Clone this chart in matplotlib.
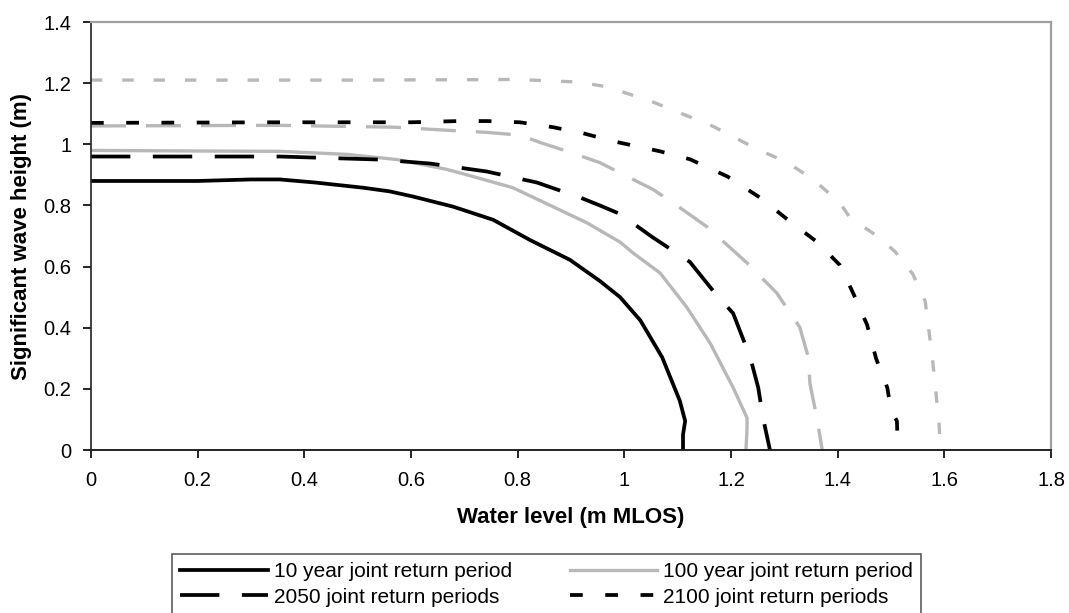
import matplotlib
matplotlib.use('Agg')
import matplotlib.pyplot as plt
from matplotlib.ticker import FuncFormatter
from matplotlib.lines import Line2D

plt.rcParams['font.family'] = ['Liberation Sans', 'DejaVu Sans']

# 10 year joint return period (present)
x_10 = [0, 0.2, 0.3, 0.354, 0.42, 0.51, 0.56, 0.604, 0.679, 0.754, 0.823, 0.898,
        0.954, 0.992, 1.03, 1.071, 1.104, 1.114, 1.11, 1.11]
y_10 = [0.88, 0.88, 0.885, 0.885, 0.875, 0.858, 0.846, 0.829, 0.796, 0.753, 0.687, 0.622,
        0.553, 0.50, 0.424, 0.303, 0.161, 0.095, 0.05, 0]

# 100 year joint return period (present)
x_100 = [0, 0.2, 0.354, 0.48, 0.574, 0.667, 0.705, 0.791, 0.866, 0.93, 0.992, 1.016,
         1.067, 1.117, 1.161, 1.204, 1.23, 1.23, 1.228]
y_100 = [0.98, 0.978, 0.977, 0.967, 0.95, 0.918, 0.90, 0.858, 0.796, 0.743, 0.68, 0.645,
         0.579, 0.467, 0.349, 0.204, 0.105, 0.07, 0]

# 2050, 10 year
x_2050_10 = [0, 0.354, 0.542, 0.636, 0.742, 0.836, 0.917, 0.954, 0.992, 1.052, 1.123,
             1.17, 1.204, 1.236, 1.251, 1.26, 1.273]
y_2050_10 = [0.96, 0.96, 0.95, 0.937, 0.911, 0.875, 0.826, 0.8, 0.772, 0.697, 0.615,
             0.513, 0.447, 0.303, 0.204, 0.105, 0]

# 2050, 100 year
x_2050_100 = [0, 0.354, 0.567, 0.667, 0.742, 0.804, 0.842, 0.898, 0.954, 1.054, 1.091,
              1.155, 1.23, 1.286, 1.329, 1.345, 1.348, 1.361, 1.371]
y_2050_100 = [1.06, 1.062, 1.056, 1.046, 1.039, 1.03, 1.006, 0.974, 0.94, 0.852, 0.809,
              0.73, 0.612, 0.513, 0.401, 0.303, 0.217, 0.105, 0]

# 2100, 10 year
x_2100_10 = [0, 0.354, 0.6, 0.69, 0.742, 0.804, 0.866, 0.923, 0.979, 1.067, 1.123, 1.193,
             1.254, 1.311, 1.361, 1.404, 1.429, 1.455, 1.472, 1.493, 1.5, 1.511, 1.513]
y_2100_10 = [1.07, 1.072, 1.072, 1.076, 1.076, 1.072, 1.056, 1.036, 1.01, 0.977, 0.951, 0.895,
             0.826, 0.747, 0.681, 0.605, 0.513, 0.41, 0.299, 0.204, 0.13, 0.095, 0]

# 2100, 100 year
x_2100_100 = [0, 0.5, 0.799, 0.866, 0.911, 0.968, 1.054, 1.166, 1.249, 1.305, 1.354, 1.404,
              1.423, 1.479, 1.508, 1.541, 1.564, 1.571, 1.578, 1.584, 1.59, 1.593]
y_2100_100 = [1.21, 1.21, 1.212, 1.207, 1.204, 1.188, 1.138, 1.059, 0.984, 0.941, 0.885, 0.809,
              0.76, 0.694, 0.648, 0.575, 0.487, 0.391, 0.293, 0.19, 0.086, 0]

legend_labels = ['10 year joint return period', '100 year joint return period',
                 '2050 joint return periods', '2100 joint return periods']

GREY = '#b8b8b8'
LW_K = 2.7
LW_G = 2.4
dash_long = (10.5, 6)
dash_dot = (3.4, 6)

fig = plt.figure(figsize=(10.69, 6.13), dpi=100)
ax = fig.add_axes([0.0851, 0.2659, 0.8981, 0.6982])

ax.plot(x_10, y_10, color='black', lw=LW_K)
ax.plot(x_100, y_100, color=GREY, lw=LW_G)
ax.plot(x_2050_10, y_2050_10, color='black', lw=LW_K, linestyle=(0, dash_long))
ax.plot(x_2050_100, y_2050_100, color=GREY, lw=LW_G, linestyle=(0, dash_long))
ax.plot(x_2100_10, y_2100_10, color='black', lw=LW_K, linestyle=(0, dash_dot))
ax.plot(x_2100_100, y_2100_100, color=GREY, lw=LW_G, linestyle=(0, dash_dot))

ax.set_xlim(0, 1.8)
ax.set_ylim(0, 1.4)
ax.set_xticks([0, 0.2, 0.4, 0.6, 0.8, 1, 1.2, 1.4, 1.6, 1.8])
ax.set_yticks([0, 0.2, 0.4, 0.6, 0.8, 1, 1.2, 1.4])
fmt = FuncFormatter(lambda v, p: '%g' % round(v, 2))
ax.xaxis.set_major_formatter(fmt)
ax.yaxis.set_major_formatter(fmt)
ax.tick_params(direction='out', length=6, width=1.2, labelsize=14.5, colors='black')
ax.tick_params(axis='x', pad=9)
ax.tick_params(axis='y', pad=8)

ax.spines['top'].set_color('#a0a0a0')
ax.spines['right'].set_color('#a0a0a0')
ax.spines['top'].set_linewidth(1.6)
ax.spines['right'].set_linewidth(1.6)
ax.spines['left'].set_color('#222222')
ax.spines['bottom'].set_color('#222222')
ax.spines['left'].set_linewidth(1.2)
ax.spines['bottom'].set_linewidth(1.4)

ax.set_xlabel('Water level (m MLOS)', fontsize=16, fontweight='bold', labelpad=12)
ax.set_ylabel('Significant wave height (m)', fontsize=16, fontweight='bold', labelpad=8)

# matplotlib fills legend columns first, so order handles column-wise
handles = [
    Line2D([], [], color='black', lw=LW_K),
    Line2D([], [], color='black', lw=LW_K, linestyle=(0, dash_long)),
    Line2D([], [], color=GREY, lw=LW_G),
    Line2D([], [], color='black', lw=LW_K, linestyle=(0, dash_dot)),
]
labels = [legend_labels[0], legend_labels[2], legend_labels[1], legend_labels[3]]
leg = fig.legend(handles, labels, ncol=2, loc='upper left',
                 bbox_to_anchor=(172 / 1069, 1 - 554 / 613), fontsize=15, frameon=True,
                 fancybox=False, edgecolor='#333333', handlelength=4.2,
                 handletextpad=0.3, columnspacing=2.75, borderpad=0.4,
                 labelspacing=0.3, borderaxespad=0)
leg.get_frame().set_linewidth(1.2)

fig.savefig('out.png', dpi=100)
